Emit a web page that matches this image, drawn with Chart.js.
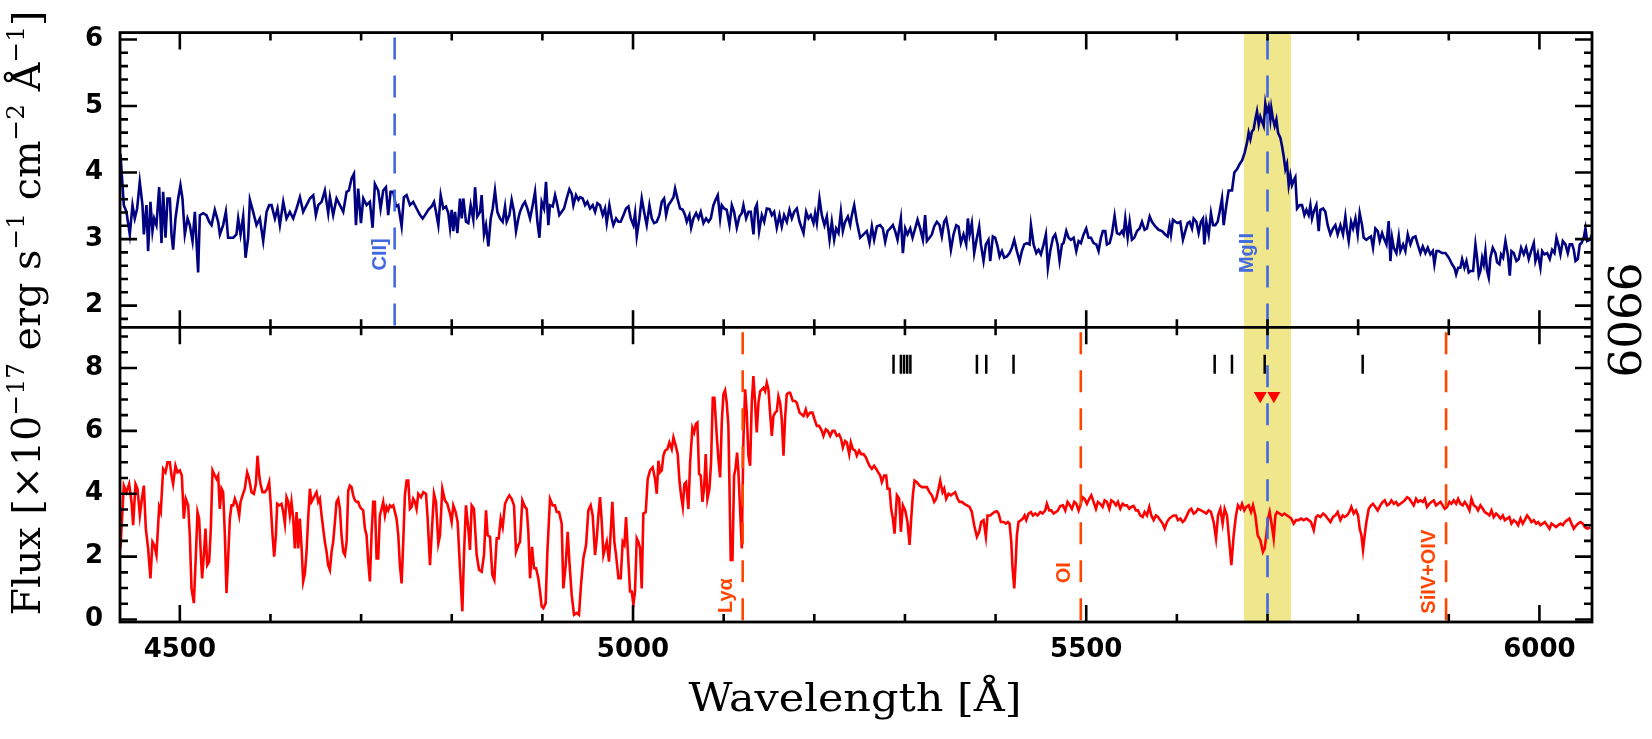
<!DOCTYPE html>
<html><head><meta charset="utf-8">
<script src="https://cdn.jsdelivr.net/npm/chart.js@4.4.0/dist/chart.umd.min.js"></script>
<style>html,body{margin:0;padding:0;background:#fff;}canvas{display:block;}</style>
</head><body>
<canvas id="c" width="1652" height="739"></canvas>
<script>
// ---------------- DATA ----------------
// Upper panel: foreground spectrum [wavelength (Å), flux]
const topSpectrum = [
[4434.5,4.28],[4438.2,3.51],[4441.1,3.41],[4444.8,3.07],[4447.8,3.51],[4450.3,3.31],[4452.9,3.46],[4455.8,3.86],[4458.8,3.51],[4460.3,3.07],[4463.2,3.51],[4465.0,2.82],[4467.6,3.56],[4469.8,3.12],[4471.7,3.31],[4474.2,3.21],[4477.2,3.78],[4479.8,2.94],[4481.6,3.71],[4484.2,3.02],[4486.4,3.61],[4489.0,3.61],[4490.8,3.07],[4492.6,2.84],[4495.2,3.31],[4498.2,3.61],[4500.7,3.81],[4502.9,3.61],[4505.5,3.07],[4508.5,3.31],[4511.0,3.21],[4514.0,2.97],[4516.6,3.41],[4520.2,2.50],[4522.1,3.36],[4525.8,3.39],[4529.4,3.36],[4532.4,3.26],[4535.0,3.21],[4538.6,3.44],[4542.3,3.26],[4544.2,3.07],[4547.8,3.21],[4550.8,3.41],[4553.3,3.02],[4555.2,3.02],[4558.9,3.02],[4562.5,3.07],[4564.4,3.31],[4567.0,3.07],[4569.9,3.34],[4572.5,2.72],[4575.4,3.02],[4577.3,3.59],[4580.9,3.41],[4584.6,3.21],[4588.3,3.31],[4592.0,2.97],[4595.7,3.41],[4598.6,3.51],[4601.2,3.51],[4604.9,3.31],[4607.8,3.46],[4610.4,3.21],[4614.1,3.56],[4617.7,3.31],[4621.4,3.41],[4625.1,3.31],[4628.8,3.46],[4632.5,3.63],[4636.1,3.41],[4639.8,3.51],[4643.5,3.61],[4647.2,3.66],[4650.1,3.36],[4652.7,3.51],[4656.4,3.56],[4660.0,3.73],[4663.7,3.39],[4665.6,3.63],[4669.2,3.36],[4672.9,3.61],[4676.6,3.51],[4680.3,3.41],[4684.0,3.71],[4686.5,3.73],[4689.5,3.91],[4692.1,3.98],[4694.3,3.21],[4696.8,3.76],[4699.8,3.24],[4702.4,3.61],[4706.0,3.51],[4709.7,3.56],[4712.7,3.17],[4715.2,3.83],[4718.9,3.73],[4721.5,3.46],[4724.4,3.73],[4727.4,3.78],[4729.9,3.36],[4732.5,3.71],[4735.5,3.71],[4738.4,3.49],[4741.0,3.51],[4744.7,3.19],[4747.2,3.63],[4750.2,3.66],[4753.9,3.51],[4757.5,3.56],[4761.2,3.46],
[4765.0,3.36],[4767.9,3.31],[4770.5,3.36],[4774.1,3.44],[4777.8,3.49],[4780.4,3.56],[4782.6,3.41],[4785.2,3.21],[4787.8,3.66],[4790.7,3.46],[4793.6,3.49],[4796.2,3.39],[4798.1,3.17],[4799.9,3.44],[4801.7,3.12],[4803.6,3.41],[4806.2,3.09],[4809.1,3.61],[4811.0,3.31],[4812.8,3.61],[4815.7,3.26],[4818.3,3.24],[4820.9,3.51],[4823.8,3.29],[4825.7,3.78],[4828.2,3.34],[4831.2,3.41],[4833.0,3.66],[4835.6,3.07],[4837.8,3.21],[4840.4,2.89],[4843.0,3.31],[4845.2,3.46],[4847.7,3.73],[4850.3,3.41],[4853.3,3.31],[4856.2,3.26],[4858.8,3.49],[4860.6,3.26],[4863.6,3.36],[4866.1,3.59],[4868.7,3.41],[4870.9,3.12],[4873.5,3.31],[4875.3,3.41],[4878.3,3.51],[4880.8,3.56],[4883.4,3.46],[4886.4,3.31],[4889.3,3.51],[4891.9,3.71],[4894.5,3.26],[4896.7,3.02],[4899.2,3.56],[4901.8,3.46],[4904.0,3.86],[4906.6,3.21],[4908.4,3.51],[4911.4,3.49],[4914.0,3.66],[4915.8,3.56],[4918.7,3.36],[4921.3,3.41],[4923.9,3.46],[4926.8,3.61],[4929.8,3.75],[4932.4,3.68],[4934.2,3.51],[4937.1,3.66],[4939.7,3.59],[4941.6,3.63],[4944.5,3.61],[4947.1,3.51],[4949.6,3.56],[4952.6,3.46],[4955.5,3.51],[4958.1,3.41],[4960.7,3.54],[4963.6,3.51],[4966.6,3.36],[4969.1,3.46],[4971.0,3.24],[4973.9,3.51],[4976.5,3.31],[4978.3,3.21],[4981.3,3.31],[4983.9,3.26],[4986.4,3.26],[4989.4,3.36],[4992.3,3.46],[4994.9,3.49],[4997.5,3.31],[5000.4,3.21],[5002.3,3.39],[5004.1,3.04],[5007.0,3.31],[5009.6,3.61],[5012.2,3.41],[5015.1,3.21],[5018.1,3.51],[5020.7,3.31],[5023.2,3.24],[5026.2,3.26],[5029.1,3.36],[5031.7,3.56],[5034.3,3.61],[5036.5,3.36],[5039.0,3.51],[5041.6,3.56],[5044.6,3.63],[5046.4,3.76],[5049.0,3.61],[5051.9,3.46],[5054.9,3.44],[5057.4,3.36],[5059.3,3.26],[5062.2,3.36],[5064.1,3.17],[5066.6,3.31],[5069.6,3.39],[5072.2,3.31],[5074.7,3.41],[5077.7,3.24],[5080.6,3.31],[5083.2,3.26],[5085.8,3.31],[5088.7,3.51],[5091.7,3.61],[5093.5,3.66],[5096.1,3.31],[5097.9,3.51],[5100.5,3.46],[5103.4,3.44],[5106.4,3.21],[5109.0,3.51],[5111.5,3.41],[5114.5,3.17],[5117.4,3.34],[5120.0,3.39],[5121.8,3.51],[5124.8,3.31],[5127.4,3.41],[5129.9,3.41],[5132.9,3.07],[5134.7,3.46],[5136.6,3.52],[5139.1,3.12],[5142.1,3.36],[5144.7,3.26],[5147.6,3.46],[5150.6,3.45],[5153.1,3.36],[5155.7,3.41],[5158.6,3.17],[5161.6,3.36],[5164.1,3.19],[5166.7,3.36],[5169.7,3.26],[5172.6,3.44],[5175.2,3.31],[5177.8,3.41],[5180.7,3.46],[5183.7,3.26],
[5188.1,3.09],[5191.0,3.41],[5193.6,3.31],[5196.1,3.36],[5199.1,3.24],[5200.9,3.39],[5202.8,3.24],[5205.7,3.61],[5208.3,3.36],[5211.2,3.21],[5213.8,3.34],[5216.8,2.99],[5219.3,3.26],[5221.9,2.99],[5224.1,3.16],[5226.7,3.09],[5229.3,3.41],[5231.5,3.12],[5234.0,3.26],[5237.0,3.34],[5239.6,3.21],[5241.4,3.36],[5244.0,3.51],[5246.9,3.26],[5250.6,3.02],[5254.3,3.07],[5257.9,3.12],[5260.9,2.94],[5263.5,3.19],[5266.0,2.99],[5269.0,3.19],[5272.7,3.21],[5275.6,3.16],[5278.2,2.96],[5280.8,3.12],[5283.7,3.16],[5286.7,3.21],[5289.2,3.12],[5291.8,2.99],[5295.5,3.31],[5297.7,2.79],[5300.3,3.16],[5302.8,3.07],[5305.8,3.16],[5308.4,3.02],[5311.3,3.16],[5313.9,3.29],[5316.8,3.16],[5319.8,2.99],[5322.3,3.36],[5324.2,2.97],[5327.1,3.02],[5329.7,3.07],[5332.3,3.19],[5335.2,3.26],[5338.2,3.21],[5340.7,3.04],[5343.3,3.26],[5345.5,3.31],[5348.1,3.12],[5350.7,2.84],[5353.6,3.07],[5356.6,3.21],[5359.1,3.19],[5361.7,2.94],[5364.6,3.07],[5367.6,2.92],[5369.4,3.31],[5371.3,3.07],[5373.8,3.24],[5376.4,2.79],[5379.4,3.02],[5381.9,3.19],[5383.8,2.92],[5386.7,2.67],[5389.3,2.92],[5392.2,2.99],[5394.1,2.67],[5397.0,3.04],[5399.6,3.02],[5402.2,2.89],[5404.4,2.74],[5407.0,2.82],[5409.5,2.72],[5412.5,2.74],[5415.4,2.79],[5418.0,2.87],[5420.6,2.99],[5423.5,2.82],[5426.5,2.67],[5429.0,2.82],[5431.6,2.92],[5434.5,2.94],[5437.5,2.92],[5439.0,3.21],[5441.9,2.92],[5444.9,2.79],[5447.4,2.84],[5450.0,2.77],[5453.0,2.92],[5455.5,3.07],[5457.7,2.57],[5460.3,2.82],[5463.3,3.02],[5465.8,3.07],[5468.4,2.92],[5470.6,2.67],[5473.2,2.92],[5475.0,2.94],[5478.0,3.12],[5480.5,3.02],[5483.1,2.99],[5486.1,3.02],[5489.0,2.82],[5491.6,2.97],[5494.1,2.94],[5497.1,3.07],[5500.0,3.16],[5502.6,3.02],[5505.2,3.02],[5508.1,2.94],[5511.1,2.92],[5513.6,2.82],[5516.2,3.02],[5518.4,3.12],[5521.0,3.12],[5522.8,2.92],[5525.8,2.94],[5528.3,3.07],[5531.3,3.35],[5533.9,3.09],[5536.8,3.07],[5539.4,3.12],[5541.2,3.07],[5543.1,3.31],[5545.7,3.02],[5547.9,3.26],[5550.4,2.99],[5553.0,3.02],[5556.0,3.12],[5558.9,3.16],[5561.5,3.26],[5564.4,3.14],[5567.0,3.16],[5570.0,3.34],[5572.5,3.26],[5576.2,3.19],[5579.9,3.14],[5583.6,3.12],[5587.2,3.07],[5589.8,3.04],[5592.0,3.21],[5593.5,3.07],[5595.7,3.29],[5598.3,3.26],[5600.8,3.24],[5603.8,3.26],[5606.7,2.99],[5609.3,3.12],[5611.9,3.24],[5614.1,3.26],[5616.7,3.16],[5618.5,3.31],[5621.5,3.26],[5624.0,3.09],
[5626.6,3.26],[5628.8,3.31],[5630.3,2.92],[5632.5,3.26],[5635.1,3.07],[5637.6,3.39],[5639.9,3.21],[5642.4,3.21],[5645.0,3.26],[5647.2,3.41],[5649.8,3.61],[5651.6,3.21],[5654.6,3.51],[5657.1,3.73],[5660.8,3.73],[5663.4,4.00],[5666.3,4.05],[5669.3,4.13],[5671.9,4.18],[5674.8,4.30],[5677.4,4.45],[5679.2,4.60],[5681.1,4.50],[5682.9,4.62],[5684.7,4.65],[5686.6,4.80],[5688.4,4.92],[5690.3,4.72],[5692.1,4.84],[5693.9,4.77],[5695.8,4.70],[5697.6,5.04],[5699.5,4.89],[5701.3,4.99],[5703.1,4.80],[5704.2,4.97],[5706.1,4.80],[5707.9,4.70],[5709.8,4.80],[5711.6,4.60],[5714.2,4.52],[5716.0,4.40],[5717.8,4.25],[5719.7,4.05],[5721.5,4.13],[5723.4,3.81],[5725.2,3.96],[5727.0,3.81],[5728.9,3.88],[5730.7,3.93],[5732.6,3.46],[5735.5,3.51],[5738.1,3.51],[5740.7,3.36],[5742.9,3.44],[5745.4,3.36],[5747.3,3.51],[5749.1,3.31],[5751.0,3.41],[5753.9,3.51],[5756.5,3.12],[5758.3,3.44],[5761.3,3.46],[5763.8,3.41],[5766.4,3.21],[5769.4,3.07],[5772.3,3.16],[5774.9,3.21],[5777.4,3.07],[5780.4,3.21],[5783.3,3.07],[5785.9,3.34],[5787.8,3.12],[5789.6,2.97],[5792.2,3.26],[5794.4,3.16],[5797.0,3.31],[5799.5,3.07],[5801.7,3.39],[5804.3,3.21],[5806.1,3.02],[5809.1,2.99],[5811.7,3.02],[5814.2,3.04],[5816.4,2.87],[5819.0,3.16],[5821.6,3.12],[5823.8,2.97],[5826.4,3.09],[5828.2,3.02],[5831.2,2.92],[5833.7,3.27],[5835.6,2.67],[5837.4,3.02],[5839.3,2.87],[5842.2,2.79],[5844.8,3.04],[5846.6,2.82],[5849.6,2.92],[5852.1,2.82],[5854.7,3.07],[5857.7,2.92],[5860.2,3.02],[5863.2,3.04],[5865.7,2.92],[5868.7,2.79],[5871.3,2.89],[5874.2,2.79],[5876.8,2.87],[5879.7,2.77],[5882.3,2.82],[5884.1,2.62],[5886.4,2.82],[5888.9,2.82],[5892.6,2.79],[5896.3,2.79],[5900.0,2.72],[5903.6,2.62],[5906.2,2.57],[5908.1,2.47],[5910.3,2.57],[5912.8,2.57],[5914.7,2.70],[5917.3,2.57],[5919.5,2.67],[5922.0,2.50],[5923.9,2.52],[5926.8,2.52],[5929.4,2.92],[5931.2,2.72],[5933.1,2.45],[5934.9,2.52],[5936.8,2.72],[5938.6,2.62],[5940.4,2.82],[5942.3,2.52],[5944.1,2.42],[5945.9,2.72],[5948.5,2.87],[5951.5,2.79],[5953.3,2.65],[5955.9,2.62],[5957.7,2.77],[5959.9,2.72],[5962.5,2.97],[5965.1,2.77],[5967.3,2.45],[5969.1,2.82],[5971.7,2.79],[5974.6,2.67],[5977.2,2.70],[5979.8,2.87],[5982.7,2.77],[5985.3,2.87],[5988.2,2.70],[5990.8,2.82],[5993.8,2.94],[5995.6,2.67],[5998.2,2.79],[6001.1,2.57],[6003.0,2.82],[6005.5,2.77],[6008.5,2.79],[6011.4,2.70],[6014.0,2.84],[6016.6,2.79],[6018.8,3.02],[6021.4,2.89],[6023.2,2.77],[6025.8,2.97],[6028.7,2.92],[6031.3,2.79],[6033.5,2.92],[6036.1,2.92],[6037.9,2.84],[6039.8,2.67],[6042.3,2.70],[6044.5,2.92],[6046.4,2.94],[6048.9,3.02],[6050.8,3.16],[6052.6,2.97],[6055.6,2.99],[6058.1,3.07]
];

// Lower panel: background spectrum [wavelength (Å), flux]
const botSpectrum = [
[4434.5,2.26],[4438.2,4.26],[4441.1,4.05],[4444.1,4.31],[4446.7,3.74],[4448.5,3.00],[4451.1,4.31],[4453.3,4.16],[4455.9,3.31],[4457.7,3.74],[4460.3,4.26],[4462.5,2.89],[4465.0,2.26],[4467.6,1.31],[4469.8,2.47],[4471.7,2.37],[4474.2,2.05],[4477.2,3.58],[4479.0,3.42],[4481.6,4.79],[4484.2,4.68],[4486.4,5.00],[4489.0,5.00],[4490.8,4.58],[4492.6,4.31],[4495.2,4.89],[4497.4,4.68],[4500.0,4.74],[4502.2,4.58],[4504.4,3.21],[4506.6,3.84],[4509.2,3.63],[4511.0,2.68],[4512.9,0.99],[4515.5,0.52],[4517.7,2.05],[4519.5,3.42],[4521.3,3.21],[4523.2,2.05],[4524.6,1.31],[4526.5,2.05],[4528.3,2.89],[4530.2,1.73],[4532.4,1.84],[4534.2,2.89],[4536.1,4.74],[4538.6,4.58],[4540.5,4.47],[4542.3,4.58],[4544.1,3.52],[4546.0,4.16],[4547.8,4.05],[4549.7,2.68],[4551.5,0.84],[4553.3,1.94],[4555.2,3.21],[4557.0,3.63],[4558.9,3.63],[4560.7,3.84],[4563.3,3.63],[4565.5,3.31],[4567.0,3.74],[4569.2,3.95],[4571.7,4.16],[4574.3,4.68],[4576.5,4.47],[4579.1,4.05],[4581.7,4.00],[4583.9,4.31],[4585.7,5.21],[4587.6,4.58],[4589.0,4.31],[4591.2,4.05],[4593.8,4.05],[4596.4,4.16],[4598.6,4.37],[4600.1,3.74],[4602.3,2.68],[4604.1,2.00],[4606.0,2.68],[4607.4,3.68],[4609.6,3.63],[4612.2,3.68],[4614.1,3.42],[4615.9,3.05],[4617.7,3.89],[4619.6,3.74],[4621.4,3.31],[4623.2,3.74],[4625.1,3.21],[4626.9,2.26],[4628.8,3.42],[4630.6,2.26],[4632.4,3.21],[4634.3,2.31],[4636.1,1.21],[4638.0,1.47],[4639.8,2.15],[4641.6,3.21],[4643.5,4.16],[4645.3,3.74],[4647.2,3.84],[4649.0,3.95],[4650.8,4.05],[4652.7,3.74],[4654.5,3.84],[4656.4,3.31],[4658.2,2.89],[4660.0,2.47],[4661.9,2.15],[4663.7,1.73],[4665.6,1.58],[4667.4,2.15],[4669.2,2.47],[4671.1,3.10],[4672.9,3.74],[4674.8,3.84],[4676.6,3.52],[4678.4,2.68],[4680.3,2.15],[4682.1,2.05],[4684.0,2.47],[4685.8,4.10],[4687.6,4.26],[4689.5,4.21],[4691.3,3.95],[4693.2,3.79],[4695.0,3.74],[4696.8,3.74],[4698.7,3.58],[4700.5,3.52],[4702.3,3.47],[4704.2,2.89],[4706.0,2.68],[4707.9,1.84],[4709.7,1.21],[4711.5,2.68],[4713.4,3.74],[4715.2,3.74],[4717.1,1.94],[4718.9,1.94],[4720.7,3.31],[4722.6,3.52],[4724.4,3.74],[4726.3,3.31],[4728.1,3.58],[4729.9,3.47],[4731.8,3.63],[4733.6,3.58],[4735.5,3.63],[4737.3,3.42],[4739.1,3.21],[4741.0,2.68],[4742.8,1.73],[4744.7,1.15],[4746.5,2.47],[4748.3,3.95],[4750.2,4.42],[4752.0,4.42],[4753.9,3.52],[4755.7,3.58],[4757.5,3.84],[4759.4,3.74],[4761.2,3.52],[4763.1,4.00],
[4766.1,3.89],[4768.6,4.05],[4771.6,4.00],[4773.4,3.21],[4776.0,1.73],[4777.8,2.68],[4780.4,4.00],[4782.6,3.74],[4785.2,2.42],[4787.0,2.68],[4789.6,4.16],[4792.5,3.79],[4795.1,3.68],[4798.1,3.37],[4799.9,3.10],[4801.7,3.63],[4804.3,3.42],[4806.5,3.10],[4809.1,1.63],[4811.7,0.26],[4813.5,2.05],[4815.7,3.63],[4818.3,2.89],[4820.1,2.21],[4822.0,3.63],[4824.5,3.52],[4827.5,2.05],[4830.1,1.58],[4833.0,1.52],[4835.6,2.05],[4837.8,3.47],[4839.6,2.68],[4842.2,2.63],[4844.8,1.42],[4847.0,1.26],[4849.6,2.58],[4851.8,2.58],[4854.0,3.21],[4856.2,2.94],[4858.8,3.68],[4861.3,3.84],[4863.5,3.95],[4866.1,3.84],[4868.7,3.63],[4870.9,2.15],[4873.5,2.37],[4875.3,2.47],[4877.9,3.79],[4880.8,3.58],[4882.7,3.52],[4884.5,2.79],[4886.4,1.31],[4888.6,2.31],[4890.8,1.63],[4893.0,1.63],[4895.5,1.31],[4897.4,0.89],[4899.2,0.42],[4901.1,0.36],[4903.6,0.52],[4905.5,2.15],[4908.4,3.84],[4911.4,3.63],[4913.9,3.63],[4915.8,3.42],[4918.4,3.42],[4921.3,3.05],[4923.1,0.99],[4925.7,1.73],[4927.9,2.79],[4929.8,1.84],[4932.3,0.79],[4934.9,0.15],[4937.9,0.21],[4940.4,0.15],[4942.6,1.10],[4945.2,1.94],[4948.2,2.37],[4950.7,3.47],[4953.3,3.63],[4955.5,3.31],[4958.1,2.05],[4960.0,2.58],[4961.8,3.31],[4963.6,3.89],[4965.5,3.10],[4967.3,2.05],[4969.1,2.26],[4971.0,2.47],[4973.5,1.84],[4975.4,2.79],[4977.2,3.74],[4979.4,2.47],[4981.3,2.05],[4983.9,1.31],[4986.4,1.31],[4988.6,2.47],[4990.5,2.37],[4992.3,3.26],[4994.9,1.84],[4996.7,0.89],[4998.6,0.89],[5000.4,0.47],[5002.2,0.89],[5004.1,2.58],[5005.9,2.47],[5007.8,2.26],[5009.6,0.99],[5011.4,3.37],[5014.0,3.42],[5016.2,4.47],[5018.8,4.74],[5021.7,4.84],[5024.3,4.47],[5026.2,4.00],[5028.0,5.05],[5029.8,4.68],[5031.7,4.74],[5033.5,5.21],[5035.4,5.37],[5037.9,5.42],[5040.1,5.63],[5042.7,5.42],[5044.6,5.79],[5047.1,5.53],[5049.3,5.26],[5051.2,4.42],[5053.0,3.95],[5054.9,3.58],[5056.7,4.31],[5058.5,4.37],[5061.1,3.52],[5063.0,5.00],[5065.5,6.10],[5067.4,5.95],[5069.2,6.21],[5071.0,6.26],[5072.9,4.63],[5074.7,4.58],[5076.6,3.74],[5078.4,4.16],[5080.2,5.26],[5082.1,3.84],[5084.3,4.16],[5086.1,5.00],[5088.0,7.05],[5089.8,7.05],[5092.4,5.84],[5094.2,5.10],[5096.1,4.52],[5097.9,6.26],[5099.7,7.16],[5101.6,7.29],[5103.4,6.89],[5105.2,6.16],[5106.4,4.26],[5107.8,1.89],[5109.7,1.89],[5111.5,4.58],[5113.0,4.79],[5114.8,5.31],[5116.3,4.68],[5118.1,3.52],[5120.0,2.26],[5121.8,5.74],[5123.7,7.32],[5125.5,6.58],[5127.3,5.21],[5129.2,4.89],[5131.0,6.89],[5132.8,7.74],[5134.7,6.89],[5136.5,5.95],[5138.4,6.89],[5140.2,7.26],[5143.9,7.37],[5145.7,7.26],[5147.6,7.53],[5149.4,7.32],[5151.2,6.58],[5153.1,5.84],[5154.9,6.47],[5156.8,6.58],[5158.6,6.63],[5160.4,7.10],[5162.3,6.89],[5164.1,6.37],[5166.0,5.21],[5167.8,6.42],[5169.6,7.16],[5171.5,7.21],[5173.3,7.21],[5176.3,6.95],[5178.9,6.95],[5180.7,6.89],[5183.7,6.58],
[5188.1,6.47],[5190.6,6.68],[5192.5,6.47],[5195.4,6.58],[5198.0,6.58],[5200.2,6.37],[5202.8,6.16],[5205.3,6.16],[5208.3,6.00],[5210.1,5.84],[5212.7,6.05],[5214.9,6.00],[5217.5,5.84],[5220.1,6.00],[5222.3,6.00],[5224.8,5.84],[5227.4,5.89],[5229.6,5.74],[5231.5,5.47],[5234.0,5.68],[5235.9,5.63],[5238.5,5.26],[5240.3,5.63],[5242.5,5.42],[5245.1,5.37],[5246.9,5.21],[5249.5,5.37],[5251.7,5.26],[5254.3,5.26],[5256.9,5.16],[5259.1,5.00],[5260.9,4.89],[5263.5,4.79],[5266.0,4.89],[5268.3,4.79],[5270.5,4.68],[5272.7,4.58],[5274.5,4.37],[5277.1,4.58],[5279.3,4.58],[5280.8,4.16],[5283.0,4.16],[5284.8,3.52],[5286.7,3.21],[5288.5,2.73],[5291.1,3.95],[5293.6,3.84],[5295.5,2.79],[5297.7,3.63],[5300.3,3.47],[5302.8,3.10],[5305.1,2.37],[5306.9,3.21],[5308.7,3.95],[5310.6,4.42],[5313.1,4.37],[5316.1,4.26],[5318.7,4.21],[5321.2,4.21],[5324.2,4.21],[5327.1,4.05],[5329.7,3.95],[5332.3,3.74],[5334.5,3.84],[5337.1,4.16],[5338.9,4.42],[5341.5,4.05],[5343.3,4.16],[5345.5,3.84],[5348.1,4.00],[5350.7,3.95],[5352.9,4.00],[5355.4,4.05],[5358.0,3.84],[5360.2,3.74],[5362.8,3.74],[5365.4,3.68],[5368.3,3.63],[5371.3,3.58],[5373.8,3.42],[5376.4,3.00],[5379.4,2.63],[5381.9,2.79],[5384.1,3.10],[5386.7,3.16],[5389.3,2.63],[5391.1,3.31],[5394.1,3.31],[5396.6,3.37],[5398.9,3.42],[5401.4,3.44],[5403.3,3.37],[5405.8,3.10],[5408.8,3.10],[5411.4,3.05],[5413.6,3.10],[5415.4,3.05],[5417.3,2.47],[5418.7,1.63],[5420.6,0.99],[5422.0,1.73],[5423.5,2.68],[5425.3,3.10],[5427.9,3.16],[5430.1,3.21],[5432.0,3.31],[5433.8,3.16],[5436.4,3.37],[5439.0,3.42],[5441.2,3.31],[5443.7,3.37],[5446.3,3.31],[5449.3,3.42],[5451.8,3.37],[5454.8,3.47],[5456.6,3.68],[5459.2,3.47],[5461.4,3.47],[5464.0,3.37],[5466.6,3.42],[5468.8,3.47],[5471.3,3.61],[5474.3,3.63],[5476.9,3.47],[5479.4,3.74],[5481.6,3.65],[5484.2,3.52],[5486.8,3.74],[5489.0,3.68],[5491.6,3.47],[5493.4,3.63],[5496.0,3.89],[5498.2,3.84],[5500.8,3.68],[5503.3,3.84],[5505.6,3.95],[5508.1,3.74],[5510.7,3.52],[5512.9,3.74],[5515.5,3.68],[5518.1,3.58],[5520.3,3.79],[5522.8,3.74],[5525.4,3.52],[5527.6,3.79],[5530.2,3.74],[5532.8,3.63],[5535.0,3.74],[5537.6,3.52],[5540.1,3.68],[5542.3,3.63],[5544.9,3.63],[5547.5,3.52],[5549.7,3.58],[5552.3,3.61],[5554.8,3.47],[5557.1,3.47],[5559.6,3.31],[5562.2,3.26],[5564.4,3.42],[5567.0,3.31],[5569.6,3.58],[5571.8,3.31],[5574.4,3.16],[5576.9,3.31],[5579.1,3.26],[5581.7,3.16],[5584.3,3.05],[5586.5,2.89],[5589.1,3.10],[5591.6,3.21],[5593.8,3.26],[5596.4,3.31],[5599.0,3.31],[5601.2,3.16],[5603.8,3.21],[5606.4,3.10],[5608.6,3.16],[5611.1,3.31],[5613.7,3.47],[5615.9,3.52],[5618.5,3.37],[5621.1,3.42],[5623.3,3.52],
[5626.6,3.47],[5629.6,3.42],[5632.5,3.37],[5635.1,3.47],[5637.6,3.42],[5640.6,3.10],[5643.2,2.58],[5645.4,3.31],[5648.0,3.52],[5650.5,3.05],[5652.7,3.52],[5655.3,3.31],[5657.9,2.47],[5660.1,1.73],[5662.7,2.68],[5665.2,3.31],[5667.4,3.63],[5670.0,3.52],[5671.9,3.68],[5674.4,3.47],[5676.6,3.58],[5679.2,3.63],[5681.8,3.42],[5684.0,3.63],[5686.6,3.31],[5689.2,2.68],[5692.1,2.52],[5695.0,2.15],[5696.9,2.26],[5698.7,2.68],[5700.6,3.21],[5702.4,3.42],[5704.2,3.10],[5706.8,2.58],[5708.7,3.31],[5710.5,3.42],[5713.4,3.37],[5716.0,3.31],[5718.6,3.37],[5721.5,3.31],[5724.1,3.26],[5726.3,3.21],[5728.9,3.05],[5731.5,3.16],[5734.4,3.16],[5737.0,3.21],[5739.9,3.16],[5742.9,3.21],[5745.4,3.16],[5748.0,3.10],[5751.0,2.84],[5753.5,3.26],[5755.7,3.31],[5758.3,3.26],[5761.3,3.37],[5763.8,3.31],[5766.4,3.21],[5769.4,3.10],[5772.3,3.26],[5774.9,3.31],[5777.4,3.42],[5780.4,3.16],[5783.0,3.31],[5785.2,3.26],[5787.8,3.31],[5790.3,3.42],[5792.5,3.58],[5795.1,3.37],[5797.7,3.47],[5799.9,3.31],[5801.7,2.89],[5803.6,2.68],[5805.4,2.21],[5807.2,2.68],[5809.1,3.10],[5811.7,3.52],[5814.2,3.63],[5816.4,3.68],[5819.0,3.58],[5821.6,3.47],[5824.5,3.63],[5827.1,3.74],[5829.3,3.79],[5831.9,3.63],[5834.5,3.68],[5836.7,3.79],[5839.3,3.68],[5841.8,3.74],[5844.0,3.63],[5846.6,3.68],[5849.2,3.74],[5851.4,3.79],[5854.0,3.89],[5856.5,3.84],[5858.8,3.74],[5861.3,3.63],[5863.9,3.84],[5866.1,3.74],[5868.7,3.79],[5871.3,3.74],[5873.5,3.84],[5876.0,3.58],[5878.6,3.68],[5880.8,3.74],[5883.4,3.79],[5886.0,3.63],[5888.2,3.68],[5890.8,3.74],[5893.3,3.63],[5895.5,3.52],[5898.1,3.58],[5900.7,3.74],[5902.9,3.68],[5905.5,3.79],[5908.1,3.68],[5910.3,3.84],[5912.8,3.68],[5915.4,3.63],[5917.6,3.74],[5920.2,3.63],[5922.8,3.47],[5925.0,3.84],[5927.6,3.63],[5930.1,3.58],[5932.3,3.47],[5934.9,3.63],[5937.5,3.52],[5939.7,3.42],[5942.3,3.37],[5944.8,3.31],[5947.1,3.47],[5949.6,3.26],[5952.2,3.37],[5954.4,3.31],[5957.0,3.21],[5959.6,3.31],[5961.8,3.16],[5964.3,3.21],[5966.9,3.26],[5969.1,3.05],[5971.7,3.16],[5974.3,3.10],[5976.5,3.00],[5979.1,3.21],[5981.6,3.05],[5983.8,3.16],[5986.4,3.31],[5989.0,3.21],[5991.2,3.10],[5993.8,3.16],[5996.4,3.05],[5998.6,3.10],[6001.1,3.00],[6003.7,3.05],[6005.9,3.10],[6008.5,3.00],[6011.1,2.89],[6013.3,3.05],[6015.8,3.00],[6018.4,2.94],[6020.6,3.00],[6023.2,3.05],[6025.8,3.00],[6028.0,3.10],[6030.6,3.16],[6033.1,3.21],[6035.4,3.05],[6037.9,2.89],[6040.5,2.99],[6042.7,3.05],[6045.3,3.10],[6047.9,3.05],[6050.1,2.94],[6052.6,2.89],[6056.0,2.92]
];

// Emission / absorption line identifications
const topLineNames = ['CII]', 'MgII'];
const topLineWaves = [4737, 5700];
const botLineNames = ['Lyα', 'OI', 'SiIV+OIV'];
const botLineWaves = [5121, 5494, 5897];
const mgIIBand = [5674, 5726];
const absMarkerWaves = [5287.4, 5295.5, 5299.0, 5302.5, 5306.0, 5379.4, 5389.7, 5419.8, 5641.7, 5660.8, 5696.9, 5805.0];
const mgIIAbsWaves = [5692, 5707];

// Tick labels
const xTickLabels = [4500, 5000, 5500, 6000];
const topTickLabels = [2, 3, 4, 5, 6];
const botTickLabels = [0, 2, 4, 6, 8];

// ---------------- STYLE / LAYOUT ----------------
const X_RANGE = [4434, 6058];
const TOP_RANGE = [1.674, 6.104];
const BOT_RANGE = [-0.08, 9.295];
const STY = {
  navy: '#000080', red: '#ff0000', blue: '#4169e1', orange: '#ff4500', band: '#f0e68c',
  dash: [22, 16], lw: 2.6,
  topLineStart: 6.03, botLineStart: 9.14,
  markLo: 7.82, markHi: 8.42, triY: 7.12,
  topLabel: { dx: [-9, -15], y: [2.77, 2.79] },
  botLabel: { dx: [-11, -11, -11], y: [0.76, 1.49, 1.52] },
  labelFont: 'bold 20px "Liberation Sans"',
  tickFont: { family: 'DejaVu Sans', weight: 'bold', size: 26 }
};

// ---------------- DATASETS ----------------
const toXY = arr => arr.map(([x, y]) => ({ x, y }));
function vline(w, y0, y1, axis, color) {
  return { data: [{ x: w, y: y0 }, { x: w, y: y1 }], yAxisID: axis, borderColor: color,
    borderWidth: STY.lw, borderDash: STY.dash, pointRadius: 0, fill: false, order: 1 };
}
const datasets = [];
datasets.push({ data: toXY(topSpectrum), yAxisID: 'yTop', borderColor: STY.navy, borderWidth: STY.lw, pointRadius: 0, fill: false, order: 5 });
datasets.push({ data: toXY(botSpectrum), yAxisID: 'yBot', borderColor: STY.red, borderWidth: STY.lw, pointRadius: 0, fill: false, order: 5 });
topLineWaves.forEach(w => datasets.push(vline(w, STY.topLineStart, TOP_RANGE[0], 'yTop', STY.blue)));
botLineWaves.forEach(w => datasets.push(vline(w, STY.botLineStart, BOT_RANGE[0], 'yBot', STY.orange)));
datasets.push(vline(topLineWaves[1], BOT_RANGE[1], BOT_RANGE[0], 'yBot', STY.blue)); // MgII continues through lower panel
const markData = [];
absMarkerWaves.forEach(w => { markData.push({ x: w, y: STY.markLo }, { x: w, y: STY.markHi }, { x: w, y: null }); });
datasets.push({ data: markData, yAxisID: 'yBot', borderColor: '#000', borderWidth: 2.5, pointRadius: 0, spanGaps: false, fill: false, order: 0 });
datasets.push({ data: mgIIAbsWaves.map(w => ({ x: w, y: STY.triY })), yAxisID: 'yBot', showLine: false,
  pointStyle: 'triangle', pointRotation: 180, pointRadius: 7.5, pointBackgroundColor: STY.red,
  pointBorderColor: STY.red, pointBorderWidth: 0, order: 0 });

// ---------------- PLUGINS ----------------
const bandPlugin = {
  id: 'band',
  beforeDatasetsDraw(chart) {
    const { ctx, chartArea: ca, scales: { x } } = chart;
    const x0 = x.getPixelForValue(mgIIBand[0]), x1 = x.getPixelForValue(mgIIBand[1]);
    ctx.save(); ctx.fillStyle = STY.band; ctx.fillRect(x0, ca.top, x1 - x0, ca.bottom - ca.top); ctx.restore();
  }
};

const framePlugin = {
  id: 'frame',
  afterDatasetsDraw(chart) {
    const { ctx, chartArea: ca, scales: { x, yTop, yBot } } = chart;
    const mid = yTop.bottom;
    const MJ = 17, MN = 8;
    ctx.save();
    ctx.strokeStyle = '#000'; ctx.lineCap = 'butt'; ctx.lineWidth = 2.6;
    ctx.beginPath();
    for (let v = 4500; v <= 6000; v += 100) {
      const px = x.getPixelForValue(v);
      const L = (v % 500 === 0) ? MJ : MN;
      ctx.moveTo(px, ca.top); ctx.lineTo(px, ca.top + L);
      ctx.moveTo(px, mid - L); ctx.lineTo(px, mid + L);
      ctx.moveTo(px, ca.bottom); ctx.lineTo(px, ca.bottom - L);
    }
    for (let k = 9; k <= 30; k++) {            // upper panel: minor 0.2, major 1
      const py = yTop.getPixelForValue(k * 0.2);
      const L = (k % 5 === 0) ? MJ : MN;
      ctx.moveTo(ca.left, py); ctx.lineTo(ca.left + L, py);
      ctx.moveTo(ca.right, py); ctx.lineTo(ca.right - L, py);
    }
    for (let k = 0; k <= 18; k++) {            // lower panel: minor 0.5, major 2
      const py = yBot.getPixelForValue(k * 0.5);
      const L = (k % 4 === 0) ? MJ : MN;
      ctx.moveTo(ca.left, py); ctx.lineTo(ca.left + L, py);
      ctx.moveTo(ca.right, py); ctx.lineTo(ca.right - L, py);
    }
    ctx.stroke();
    ctx.lineWidth = 2.8;
    ctx.strokeRect(ca.left, ca.top, ca.right - ca.left, ca.bottom - ca.top);
    ctx.beginPath(); ctx.moveTo(ca.left, mid); ctx.lineTo(ca.right, mid); ctx.stroke();
    ctx.restore();

    // line labels
    ctx.save();
    ctx.font = STY.labelFont; ctx.textAlign = 'center'; ctx.textBaseline = 'alphabetic';
    const lab = (name, w, dx, yv, scale, color) => {
      ctx.save();
      ctx.translate(x.getPixelForValue(w) + dx, scale.getPixelForValue(yv));
      ctx.rotate(-Math.PI / 2);
      ctx.fillStyle = color; ctx.fillText(name, 0, 0);
      ctx.restore();
    };
    topLineNames.forEach((n, i) => lab(n, topLineWaves[i], STY.topLabel.dx[i], STY.topLabel.y[i], yTop, STY.blue));
    botLineNames.forEach((n, i) => lab(n, botLineWaves[i], STY.botLabel.dx[i], STY.botLabel.y[i], yBot, STY.orange));
    ctx.restore();
  }
};

function drawRich(ctx, parts, cx, cy, rot, target, font, supFont, rise) {
  ctx.save();
  ctx.translate(cx, cy); ctx.rotate(rot);
  let W = 0;
  for (const p of parts) { ctx.font = p.sup ? supFont : font; W += ctx.measureText(p.t).width; }
  ctx.scale(target / W, 1);
  ctx.fillStyle = '#000'; ctx.textAlign = 'left'; ctx.textBaseline = 'alphabetic';
  let xp = -W / 2;
  for (const p of parts) {
    ctx.font = p.sup ? supFont : font;
    ctx.fillText(p.t, xp, p.sup ? -rise : 0);
    xp += ctx.measureText(p.t).width;
  }
  ctx.restore();
}

const titlePlugin = {
  id: 'titles',
  afterDraw(chart) {
    const ctx = chart.ctx;
    const F = '40px "DejaVu Serif"', S = '25px "DejaVu Serif"';
    drawRich(ctx, [{ t: 'Wavelength [Å]' }], 855, 711, 0, 333, F, S, 0);
    drawRich(ctx, [
      { t: 'Flux [×10' }, { t: '−17', sup: true }, { t: ' erg s' }, { t: '−1', sup: true },
      { t: ' cm' }, { t: '−2', sup: true }, { t: ' Å' }, { t: '−1', sup: true }, { t: ']' }
    ], 40, 313, -Math.PI / 2, 605, F, S, 16);
    drawRich(ctx, [{ t: '6066' }], 1641, 320, -Math.PI / 2, 115, '44px "DejaVu Serif"', S, 0);
  }
};

// ---------------- CHART ----------------
const tickOpts = { autoSkip: false, maxRotation: 0, color: '#000', font: STY.tickFont, callback: v => String(v) };
new Chart(document.getElementById('c'), {
  type: 'line',
  data: { datasets },
  options: {
    responsive: false, animation: false, events: [],
    layout: { padding: { left: 0, right: 60, top: 25, bottom: 0 } },
    plugins: { legend: { display: false }, tooltip: { enabled: false } },
    elements: { point: { radius: 0 }, line: { tension: 0 } },
    scales: {
      x: {
        type: 'linear', position: 'bottom', min: X_RANGE[0], max: X_RANGE[1],
        grid: { display: false, drawTicks: false }, border: { display: false },
        ticks: Object.assign({ padding: 13 }, tickOpts),
        afterBuildTicks: s => { s.ticks = xTickLabels.map(v => ({ value: v })); },
        afterFit: s => { s.height = 117; }
      },
      yBot: {
        type: 'linear', position: 'left', stack: 'panels', stackWeight: 1,
        min: BOT_RANGE[0], max: BOT_RANGE[1],
        grid: { display: false, drawTicks: false }, border: { display: false },
        ticks: Object.assign({ padding: 17 }, tickOpts),
        afterBuildTicks: s => { s.ticks = botTickLabels.map(v => ({ value: v })); },
        afterFit: s => { s.width = 120; }
      },
      yTop: {
        type: 'linear', position: 'left', stack: 'panels', stackWeight: 1,
        min: TOP_RANGE[0], max: TOP_RANGE[1],
        grid: { display: false, drawTicks: false }, border: { display: false },
        ticks: Object.assign({ padding: 17 }, tickOpts),
        afterBuildTicks: s => { s.ticks = topTickLabels.map(v => ({ value: v })); },
        afterFit: s => { s.width = 120; }
      }
    }
  },
  plugins: [bandPlugin, framePlugin, titlePlugin]
});
</script>
</body></html>
